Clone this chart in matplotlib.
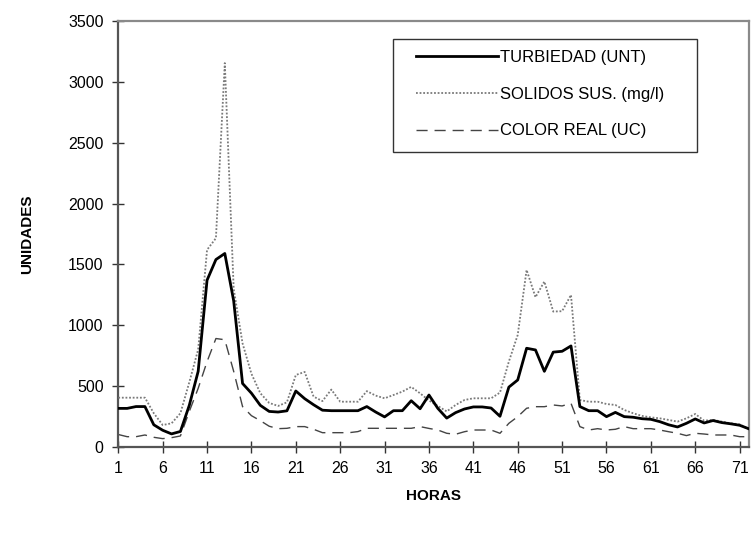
import matplotlib
matplotlib.use("Agg")
import matplotlib.pyplot as plt
from matplotlib.patches import Rectangle

plt.rcParams['font.family'] = ['Liberation Sans', 'DejaVu Sans']

hours = list(range(1, 73))

turbiedad = [315, 315, 330, 330, 180, 135, 105, 125, 340, 620,
             1370, 1540, 1590, 1200, 520, 440, 340, 290, 285, 295,
             458, 395, 345, 300, 296, 296, 296, 296, 330, 285,
             245, 296, 296, 378, 312, 425, 315, 235, 280, 310,
             327, 327, 318, 250, 490, 549, 810, 796, 620, 778,
             785, 829, 330, 296, 296, 247, 282, 247, 242, 230,
             225, 206, 180, 162, 192, 228, 195, 215, 198, 188,
             176, 148]

solidos = [403, 403, 403, 403, 275, 178, 192, 275, 530, 800,
           1620, 1716, 3157, 1300, 850, 600, 440, 360, 335, 365,
           590, 615, 412, 375, 470, 370, 370, 370, 457, 420,
           398, 425, 453, 492, 439, 380, 335, 290, 343, 384,
           398, 398, 398, 445, 700, 920, 1455, 1230, 1359, 1112,
           1115, 1249, 384, 370, 370, 351, 343, 302, 275, 253,
           241, 233, 220, 206, 233, 269, 214, 220, 206, 192,
           184, 143]

color_real = [100, 82, 82, 96, 77, 66, 74, 88, 290, 480,
              700, 890, 880, 620, 330, 255, 214, 168, 148, 151,
              165, 165, 143, 115, 115, 115, 115, 124, 151, 151,
              151, 151, 151, 151, 165, 150, 137, 110, 102, 123,
              137, 137, 137, 110, 192, 247, 316, 329, 329, 343,
              335, 357, 165, 137, 148, 137, 143, 165, 148, 148,
              148, 137, 123, 110, 91, 110, 104, 96, 96, 96,
              82, 82]

labels = ["TURBIEDAD (UNT)", "SOLIDOS SUS. (mg/l)", "COLOR REAL (UC)"]
x_ticks = list(range(1, 72, 5))
y_ticks = list(range(0, 3501, 500))

W, H = 751, 533
fig = plt.figure(figsize=(W / 100, H / 100), dpi=100)
ax = fig.add_axes([0.1575, 0.162, 0.8392, 0.7978])

ax.plot(hours, turbiedad, color='black', lw=2.0, label=labels[0], zorder=4)
ax.plot(hours, solidos, color='#7a7a7a', lw=1.3, linestyle=(0, (1, 1)), label=labels[1], zorder=3)
ax.plot(hours, color_real, color='#444444', lw=1.0, linestyle=(0, (8, 5)), label=labels[2], zorder=2)

ax.set_xlim(1, 72)
ax.set_ylim(0, 3500)
ax.set_xticks(x_ticks)
ax.set_yticks(y_ticks)
ax.tick_params(axis='both', direction='inout', length=9, width=1, color='#333333',
               labelsize=11.5, pad=6)
for s in ax.spines.values():
    s.set_color('#8a8a8a')
    s.set_linewidth(1.6)
ax.spines['left'].set_color('#555555')
ax.spines['bottom'].set_color('#555555')

fig.text(0.036, 0.56, "UNIDADES", rotation=90, ha='center', va='center',
         fontsize=11, fontweight='bold')
fig.text(0.577, 0.069, "HORAS", ha='center', va='center',
         fontsize=11, fontweight='bold')

# legend frame drawn as a patch in figure coordinates
x0, y0, x1, y1 = 393, 39.5, 697, 152
frame = Rectangle((x0 / W, 1 - y1 / H), (x1 - x0) / W, (y1 - y0) / H,
                  transform=fig.transFigure, facecolor='white',
                  edgecolor='#333333', linewidth=1.0, zorder=5, clip_on=False)
ax.add_patch(frame)

leg = ax.legend(loc='upper left', bbox_to_anchor=(416 / W, 1 - 50 / H),
                bbox_transform=fig.transFigure, fontsize=12, frameon=False,
                handlelength=4.9, handletextpad=0.15,
                labelspacing=1.3, borderpad=0, borderaxespad=0)
leg.set_zorder(6)

fig.savefig("out.png", dpi=100)
